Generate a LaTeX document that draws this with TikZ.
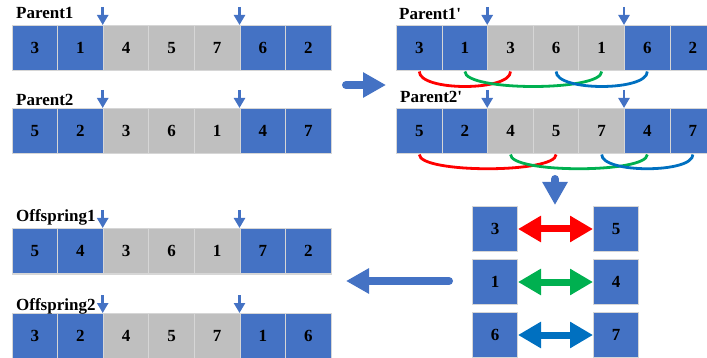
\documentclass[tikz,border=0pt]{standalone}
\usepackage{fontspec}
\setmainfont{Liberation Serif}
% family without the TeX ligature mapping, so that ' stays a straight quote
\newfontfamily\labelfont{Liberation Serif}
\usetikzlibrary{arrows.meta,calc}

\definecolor{cellblue}{HTML}{4472C4}
\definecolor{cellgray}{HTML}{BFBFBF}
\definecolor{cellline}{HTML}{D6D6D6}
\definecolor{arcred}{HTML}{FF0000}
\definecolor{arcgreen}{HTML}{00B050}
\definecolor{arcblue}{HTML}{0070C0}

\tikzset{
  cellbase/.style={draw=cellline, line width=1pt, inner sep=0pt,
    minimum width=45.6pt, minimum height=45.5pt, anchor=north west,
    font=\fontsize{17}{20}\selectfont\bfseries, text=black},
  cellblue/.style={cellbase, fill=cellblue},
  cellgray/.style={cellbase, fill=cellgray},
  genebox/.style={draw=cellline, line width=1pt, inner sep=0pt,
    minimum size=45pt, fill=cellblue, anchor=north west,
    font=\fontsize{17}{20}\selectfont\bfseries, text=black},
  lbl/.style={anchor=base west, inner sep=0pt,
    font=\labelfont\fontsize{17}{20}\selectfont\bfseries},
  cutarrow/.style={draw=cellblue, line width=2.6pt,
    -{Triangle[length=10pt,width=11pt]}},
  bigarrow/.style={draw=cellblue, line width=8pt, line cap=round,
    -{Triangle[length=23pt,width=24pt]}},
  swaparrow/.style={line width=7pt,
    {Triangle[length=23pt,width=25pt]}-{Triangle[length=23pt,width=25pt]}},
  pairarc/.style={line width=2.8pt},
}

% one chromosome: name prefix, left x, top y, seven genes
\newcommand\chromrow[4]{%
  \foreach \g [count=\i] in {#4} {%
    \ifnum\i<3 \def\cs{cellblue}\else\ifnum\i>5 \def\cs{cellblue}\else\def\cs{cellgray}\fi\fi
    \node[\cs] (#1-\i) at ({#2+(\i-1)*45.6},#3) {\g};
  }%
}

% two cut points above a chromosome
\newcommand\cutmarks[1]{%
  \coordinate (#1-ca) at ($(#1-3.north west)+(0,-18)$);
  \coordinate (#1-cb) at ($(#1-6.north west)+(0,-18)$);
  \draw[cutarrow] (#1-ca) -- (#1-3.north west);
  \draw[cutarrow] (#1-cb) -- (#1-6.north west);
}

\begin{document}
\begin{tikzpicture}[x=1pt,y=-1pt]
\useasboundingbox (0,0) rectangle (707,358);
\clip (0,0) rectangle (707,358);

% parents
\chromrow{pa}{11.5}{25}{3,1,4,5,7,6,2}
\chromrow{pb}{11.5}{108}{5,2,3,6,1,4,7}
\node[lbl] (lpa) at (16,19) {Parent1};
\node[lbl] (lpb) at (16,106) {Parent2};
\cutmarks{pa}
\cutmarks{pb}

% parents after swapping the middle segments
\chromrow{qa}{396}{25}{3,1,3,6,1,6,2}
\chromrow{qb}{396}{108}{5,2,4,5,7,4,7}
\node[lbl] (lqa) at (399,20) {Parent1'};
\node[lbl] (lqb) at (400,103) {Parent2'};
\cutmarks{qa}
\cutmarks{qb}

% duplicated genes
\draw[pairarc, arcred]   (qa-1.south) .. controls +(0,20) and +(0,20) .. (qa-3.south);
\draw[pairarc, arcgreen] (qa-2.south) .. controls +(0,20) and +(0,20) .. (qa-5.south);
\draw[pairarc, arcblue]  (qa-4.south) .. controls +(0,20) and +(0,20) .. (qa-6.south);
\draw[pairarc, arcred]   (qb-1.south) .. controls +(0,19) and +(0,19) .. (qb-4.south);
\draw[pairarc, arcgreen] (qb-3.south) .. controls +(0,19) and +(0,19) .. (qb-6.south);
\draw[pairarc, arcblue]  (qb-5.south) .. controls +(0,19) and +(0,19) .. (qb-7.south);

% offspring
\chromrow{oa}{11.5}{228}{5,4,3,6,1,7,2}
\chromrow{ob}{11.5}{313}{3,2,4,5,7,1,6}
\node[lbl] (loa) at (16,222) {Offspring1};
\node[lbl] (lob) at (16,310) {Offspring2};
\cutmarks{oa}
\cutmarks{ob}

% mapping relations
\node[genebox] (ma) at (472,206) {3};
\node[genebox] (mb) at (593,206) {5};
\node[genebox] (mc) at (472,259) {1};
\node[genebox] (md) at (593,259) {4};
\node[genebox] (me) at (472,312) {6};
\node[genebox] (mf) at (593,312) {7};
\draw[swaparrow, arcred]   (ma.east) -- (mb.west);
\draw[swaparrow, arcgreen] (mc.east) -- (md.west);
\draw[swaparrow, arcblue]  (me.east) -- (mf.west);

% flow between stages
\coordinate (fa1) at (346,85);
\coordinate (fa2) at (386,85);
\draw[bigarrow] (fa1) -- (fa2);
\coordinate (fb1) at (555,179);
\coordinate (fb2) at (555,205);
\draw[bigarrow] (fb1) -- (fb2);
\coordinate (fc1) at (449,281);
\coordinate (fc2) at (346,281);
\draw[bigarrow] (fc1) -- (fc2);
\end{tikzpicture}
\end{document}
